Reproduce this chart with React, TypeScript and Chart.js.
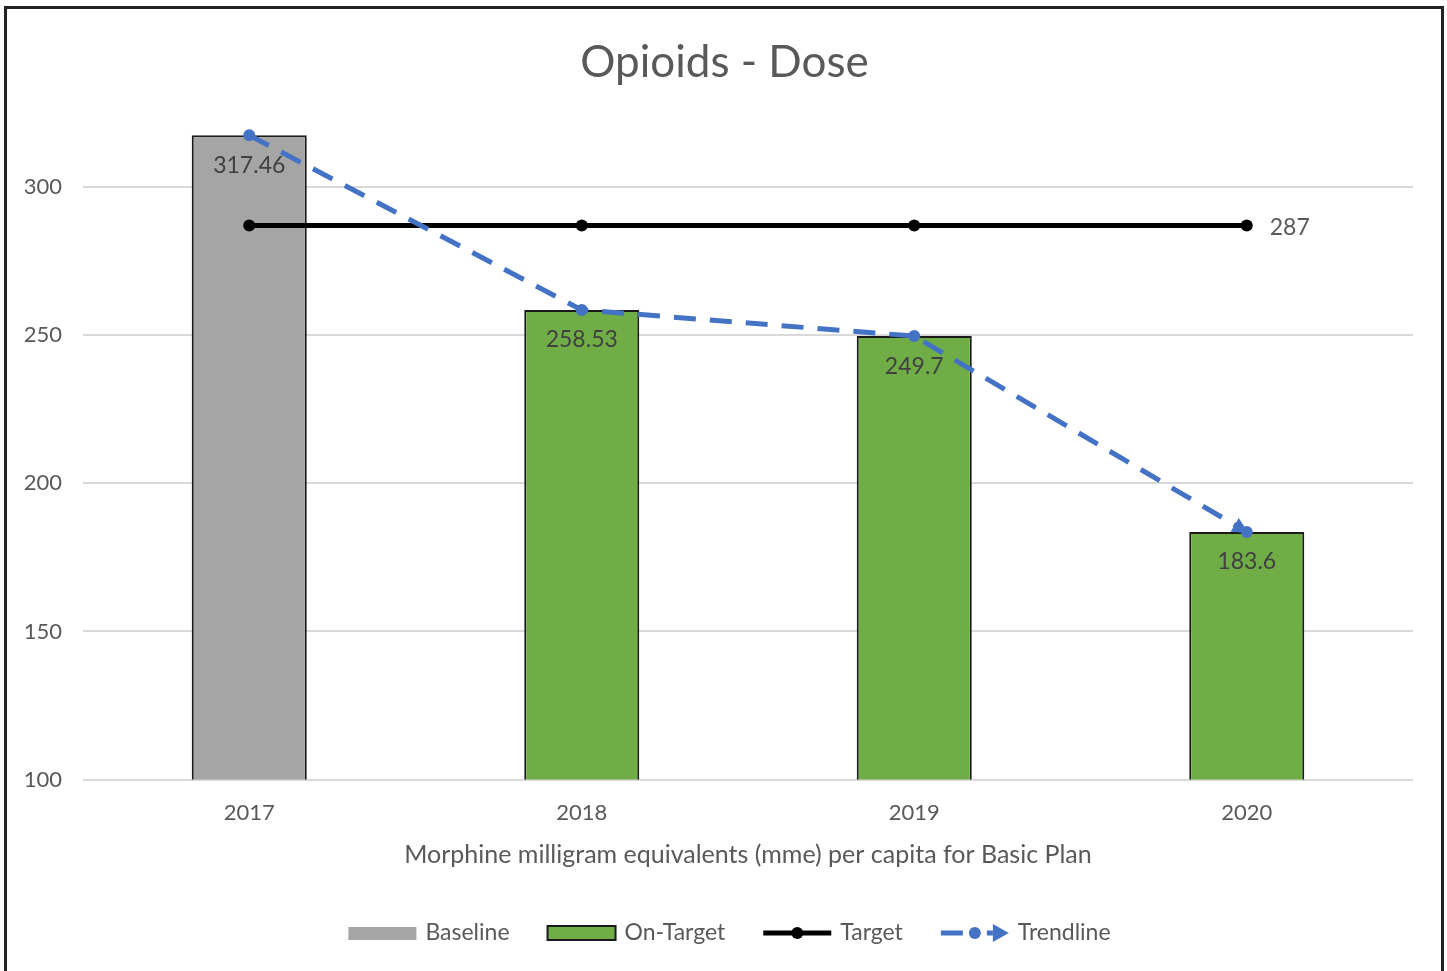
import React, { useEffect, useRef } from "react";
import { Chart, registerables } from "chart.js";

Chart.register(...registerables);

const FONT = "Lato, 'Open Sans', sans-serif";

const categories = ["2017", "2018", "2019", "2020"];
const baselineValues = [317.46, null, null, null];
const onTargetValues = [null, 258.53, 249.7, 183.6];
const targetValues = [287, 287, 287, 287];
const trendValues = [317.46, 258.53, 249.7, 183.6];
const yTickValues = [100, 150, 200, 250, 300];
const yMin = 100;
const yMax = 325;
const titleText = "Opioids - Dose";
const xAxisTitle = "Morphine milligram equivalents (mme) per capita for Basic Plan";
const legendLabels = ["Baseline", "On-Target", "Target", "Trendline"];

const GRAY = "#A5A5A5";
const GREEN = "#70AD47";
const BLUE = "#4472C4";
const TEXT = "#595959";

const titlePlugin = {
  id: "centeredTitle",
  afterDraw(chart: any) {
    const ctx = chart.ctx;
    ctx.save();
    ctx.font = `44px ${FONT}`;
    ctx.fillStyle = TEXT;
    ctx.textAlign = "center";
    ctx.textBaseline = "middle";
    ctx.fillText(titleText, chart.width / 2 + 1, 63);
    ctx.restore();
  },
};

const labelPlugin = {
  id: "valueLabels",
  afterDatasetsDraw(chart: any) {
    const ctx = chart.ctx;
    ctx.save();
    ctx.font = `23px ${FONT}`;
    ctx.textAlign = "center";
    ctx.textBaseline = "middle";
    [0, 1].forEach((di) => {
      const meta = chart.getDatasetMeta(di);
      const data = chart.data.datasets[di].data;
      meta.data.forEach((el: any, i: number) => {
        const v = data[i];
        if (v === null || v === undefined) return;
        ctx.fillStyle = "#404040";
        ctx.fillText(String(v), el.x, el.y + 30);
      });
    });
    const tMeta = chart.getDatasetMeta(2);
    const last = tMeta.data[tMeta.data.length - 1];
    const tData = chart.data.datasets[2].data;
    ctx.fillStyle = TEXT;
    ctx.textAlign = "left";
    ctx.fillText(String(tData[tData.length - 1]), last.x + 23, last.y + 2);
    const trMeta = chart.getDatasetMeta(3);
    const n = trMeta.data.length;
    const p1 = trMeta.data[n - 2];
    const p2 = trMeta.data[n - 1];
    const ang = Math.atan2(p2.y - p1.y, p2.x - p1.x);
    ctx.fillStyle = BLUE;
    ctx.translate(p2.x, p2.y);
    ctx.rotate(ang);
    ctx.beginPath();
    ctx.moveTo(2, 0);
    ctx.lineTo(-14, -8);
    ctx.lineTo(-14, 8);
    ctx.closePath();
    ctx.fill();
    ctx.restore();
  },
};

const legendPlugin = {
  id: "customLegend",
  afterDraw(chart: any) {
    const ctx = chart.ctx;
    ctx.save();
    ctx.font = `23px ${FONT}`;
    const markerW = 68;
    const gapText = 9;
    const gapItem = 38;
    const widths = legendLabels.map((l) => ctx.measureText(l).width);
    const total =
      widths.reduce((a, w) => a + markerW + gapText + w, 0) + gapItem * (legendLabels.length - 1);
    let x = chart.width / 2 + 6 - total / 2;
    const y = 933;
    legendLabels.forEach((label, i) => {
      if (i === 0) {
        ctx.fillStyle = GRAY;
        ctx.fillRect(x, y - 6, markerW, 13);
      } else if (i === 1) {
        ctx.fillStyle = GREEN;
        ctx.fillRect(x, y - 7, markerW, 14);
        ctx.strokeStyle = "#1a1a1a";
        ctx.lineWidth = 2;
        ctx.strokeRect(x, y - 7, markerW, 14);
      } else if (i === 2) {
        ctx.strokeStyle = "#000";
        ctx.lineWidth = 5;
        ctx.beginPath();
        ctx.moveTo(x, y);
        ctx.lineTo(x + markerW, y);
        ctx.stroke();
        ctx.fillStyle = "#000";
        ctx.beginPath();
        ctx.arc(x + markerW / 2, y, 6, 0, Math.PI * 2);
        ctx.fill();
      } else {
        ctx.strokeStyle = BLUE;
        ctx.fillStyle = BLUE;
        ctx.lineWidth = 5;
        ctx.beginPath();
        ctx.moveTo(x, y);
        ctx.lineTo(x + 22, y);
        ctx.stroke();
        ctx.beginPath();
        ctx.arc(x + 34, y, 6, 0, Math.PI * 2);
        ctx.fill();
        ctx.beginPath();
        ctx.moveTo(x + 46, y);
        ctx.lineTo(x + 52, y);
        ctx.stroke();
        ctx.beginPath();
        ctx.moveTo(x + 68, y);
        ctx.lineTo(x + 52, y - 9);
        ctx.lineTo(x + 52, y + 9);
        ctx.closePath();
        ctx.fill();
      }
      ctx.fillStyle = TEXT;
      ctx.textAlign = "left";
      ctx.textBaseline = "middle";
      ctx.fillText(label, x + markerW + gapText, y);
      x += markerW + gapText + widths[i] + gapItem;
    });
    ctx.restore();
  },
};

export default function App() {
  const canvasRef = useRef<HTMLCanvasElement | null>(null);

  useEffect(() => {
    if (!canvasRef.current) return;
    const chart = new Chart(canvasRef.current, {
      type: "bar",
      data: {
        labels: categories,
        datasets: [
          {
            type: "bar",
            label: legendLabels[0],
            data: baselineValues as any,
            backgroundColor: GRAY,
            borderColor: "#1a1a1a",
            borderWidth: 2,
            barPercentage: 0.346,
            categoryPercentage: 1,
            grouped: false,
            order: 3,
          } as any,
          {
            type: "bar",
            label: legendLabels[1],
            data: onTargetValues as any,
            backgroundColor: GREEN,
            borderColor: "#1a1a1a",
            borderWidth: 2,
            barPercentage: 0.346,
            categoryPercentage: 1,
            grouped: false,
            order: 3,
          } as any,
          {
            type: "line",
            label: legendLabels[2],
            data: targetValues,
            borderColor: "#000",
            borderWidth: 5,
            pointRadius: 6,
            pointBackgroundColor: "#000",
            pointBorderWidth: 0,
            fill: false,
            order: 2,
          } as any,
          {
            type: "line",
            label: legendLabels[3],
            data: trendValues,
            borderColor: BLUE,
            borderWidth: 5,
            borderDash: [22, 14],
            pointRadius: 6,
            pointBackgroundColor: BLUE,
            pointBorderWidth: 0,
            fill: false,
            order: 1,
          } as any,
        ],
      },
      options: {
        animation: false,
        responsive: true,
        maintainAspectRatio: false,
        layout: { padding: { left: 0, right: 34, top: 113, bottom: 101 } },
        plugins: {
          legend: { display: false },
          tooltip: { enabled: false },
          title: { display: false },
        },
        scales: {
          x: {
            grid: { display: false, drawTicks: false },
            border: { display: false },
            ticks: {
              color: TEXT,
              font: { family: FONT, size: 22, lineHeight: 1.2 },
              padding: 20,
            },
            title: {
              display: true,
              text: xAxisTitle,
              color: TEXT,
              font: { family: FONT, size: 25, lineHeight: 1.2 },
              padding: { top: -6, bottom: 0 },
            },
          },
          y: {
            min: yMin,
            max: yMax,
            grid: { color: "#D9D9D9", lineWidth: 2, drawTicks: false },
            border: { display: false },
            ticks: {
              color: TEXT,
              font: { family: FONT, size: 22 },
              padding: 21,
              stepSize: 50,
            },
            afterBuildTicks(scale: any) {
              scale.ticks = yTickValues.map((v) => ({ value: v }));
            },
            afterFit(scale: any) {
              scale.width = 83;
            },
          },
        },
      },
      plugins: [titlePlugin, labelPlugin, legendPlugin],
    });
    return () => chart.destroy();
  }, []);

  return (
    <div
      style={{
        position: "fixed",
        left: 0,
        top: 0,
        width: 1447,
        height: 971,
        overflow: "hidden",
        background: "#fff",
      }}
    >
      <canvas ref={canvasRef} style={{ width: "100%", height: "100%" }} />
      <div
        style={{
          position: "absolute",
          left: 4,
          top: 6,
          width: 1440,
          height: 1000,
          border: "3px solid #222",
          boxSizing: "border-box",
          pointerEvents: "none",
        }}
      />
    </div>
  );
}
